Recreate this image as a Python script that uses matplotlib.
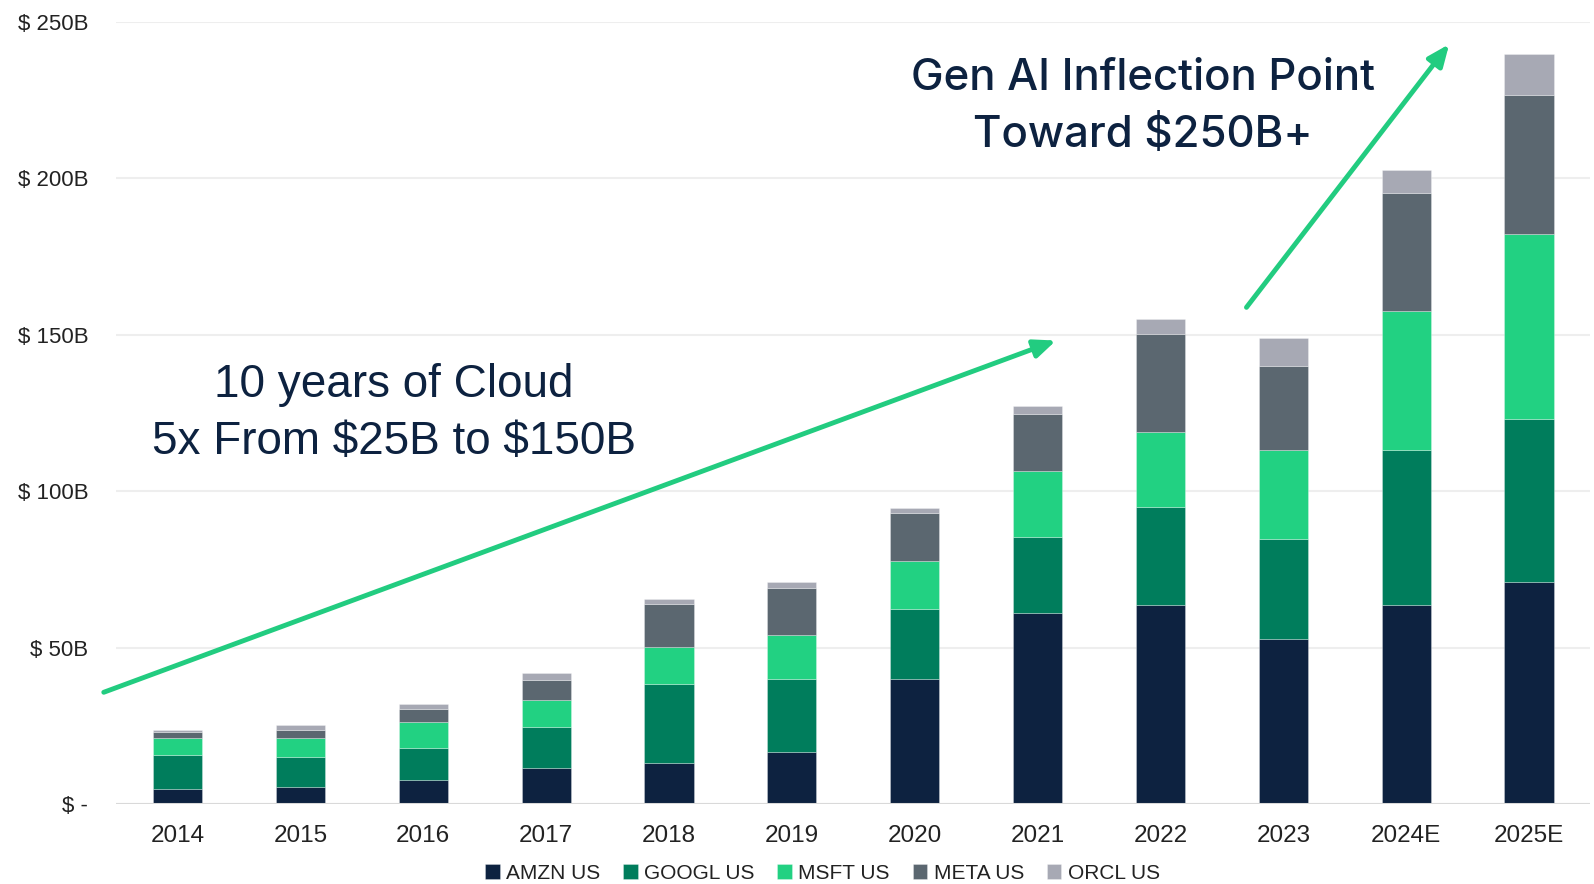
import matplotlib
matplotlib.use("Agg")
import matplotlib.pyplot as plt
import numpy as np

plt.rcParams["font.family"] = ["Liberation Sans", "DejaVu Sans"]

# ── データ（単位: $B、各系列の累積トップを読み取り）──
YEARS = ["2014", "2015", "2016", "2017", "2018", "2019",
         "2020", "2021", "2022", "2023", "2024E", "2025E"]
SERIES = ["AMZN US", "GOOGL US", "MSFT US", "META US", "ORCL US"]

amzn_top  = [4.7, 5.3, 7.7, 11.6, 13.2, 16.7, 40.0, 60.9, 63.5, 52.6, 63.7, 70.9]
googl_top = [15.6, 15.0, 17.8, 24.7, 38.3, 40.0, 62.2, 85.4, 95.0, 84.8, 113.1, 122.9]
msft_top  = [21.2, 21.2, 26.1, 33.1, 50.1, 54.0, 77.5, 106.3, 118.8, 113.0, 157.5, 182.2]
meta_top  = [23.0, 23.5, 30.5, 39.7, 63.9, 69.1, 92.9, 124.7, 150.2, 140.0, 195.3, 226.6]
orcl_top  = [23.6, 25.1, 31.9, 41.9, 65.6, 70.8, 94.5, 127.2, 154.9, 149.0, 202.5, 239.7]

Y_TICKS = [0, 50, 100, 150, 200, 250]
Y_TICK_LABELS = ["$ -", "$ 50B", "$ 100B", "$ 150B", "$ 200B", "$ 250B"]

COLORS = ["#0D2240", "#007D5C", "#22D182", "#5B6770", "#A7A9B4"]
NAVY = "#0D2240"
ARROW = "#22CC80"

tops = np.array([amzn_top, googl_top, msft_top, meta_top, orcl_top])
bottoms = np.vstack([np.zeros(len(YEARS)), tops[:-1]])
heights = tops - bottoms

fig = plt.figure(figsize=(15.94, 8.84), dpi=100)
ax = fig.add_axes([0.0728, 0.0905, 0.925, 0.885])

x = np.arange(len(YEARS))
for i, name in enumerate(SERIES):
    ax.bar(x, heights[i], bottom=bottoms[i], width=0.4, color=COLORS[i],
           label=name, edgecolor=(1, 1, 1, 0.5), linewidth=0.4, zorder=3)

ax.set_xlim(-0.5, 11.5)
ax.set_ylim(0, 250)
ax.set_xticks(x)
ax.set_xticklabels(YEARS, fontsize=17.5, color="#222222")
ax.set_yticks(Y_TICKS)
ax.set_yticklabels(Y_TICK_LABELS, fontsize=16, color="#222222")
ax.tick_params(axis="both", length=0)
ax.tick_params(axis="y", pad=20)
ax.tick_params(axis="x", pad=15)
for s in ax.spines.values():
    s.set_visible(False)
ax.grid(axis="y", color="#EEEEEE", linewidth=1.5, zorder=0)
ax.set_axisbelow(True)
ax.axhline(0, color="#D9D9D9", linewidth=2.2, zorder=4)

# 矢印
arrow_kw = dict(arrowstyle="-|>,head_length=1.3,head_width=0.55",
                color=ARROW, lw=3.5, shrinkA=0, shrinkB=0)
ax.annotate("", xy=(7.15, 148.1), xytext=(-0.6, 35.7),
            arrowprops=arrow_kw, annotation_clip=False, zorder=5)
ax.annotate("", xy=(10.35, 242.8), xytext=(8.70, 158.7),
            arrowprops=arrow_kw, annotation_clip=False, zorder=5)

# 注記テキスト
ax.text(1.76, 124.7, "10 years of Cloud\n5x From \\$25B to \\$150B",
        ha="center", va="center", fontsize=33, color=NAVY, linespacing=1.37)
ax.text(7.86, 222.7, "Gen AI Inflection Point\nToward \\$250B+",
        ha="center", va="center", fontsize=31.5, color=NAVY, linespacing=1.5,
        family=["Inter", "DejaVu Sans"], fontweight="medium")

fig.legend(loc="center", bbox_to_anchor=(0.516, 0.012), ncol=5, frameon=False,
           fontsize=15, handlelength=0.7, handleheight=0.7, handletextpad=0.3,
           columnspacing=1.1, labelcolor="#222222")

fig.savefig("out.png", dpi=100)
